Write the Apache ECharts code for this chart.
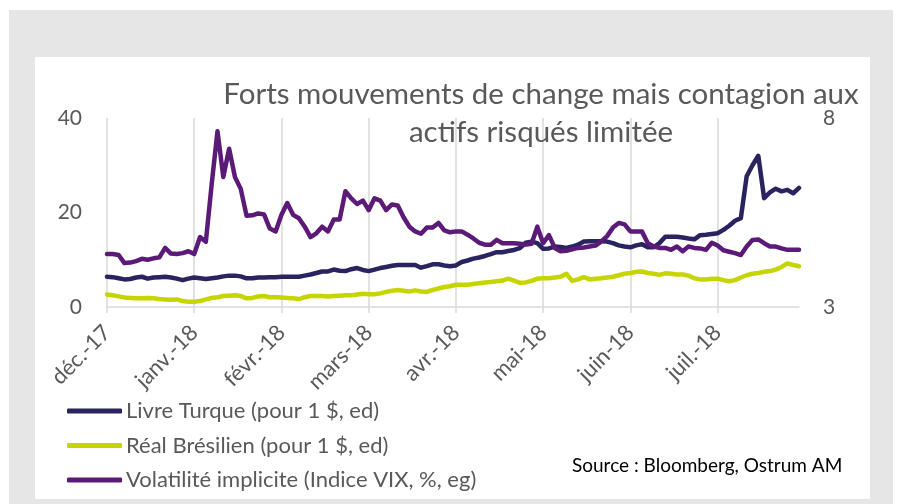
<!DOCTYPE html>
<html>
<head>
<meta charset="utf-8">
<script src="https://cdn.jsdelivr.net/npm/echarts@6/dist/echarts.min.js"></script>
<style>
html,body{margin:0;padding:0;background:#fff;}
#chart{width:901px;height:504px;}
</style>
</head>
<body>
<div id="chart"></div>
<script>
// ---- DATA ----
const monthLabels = ['déc.-17','janv.-18','févr.-18','mars-18','avr.-18','mai-18','juin-18','juil.-18'];
const seriesNames = ['Livre Turque (pour 1 $, ed)','Réal Brésilien (pour 1 $, ed)','Volatilité implicite (Indice VIX, %, eg)'];
// Livre turque pour 1 $ (échelle droite)
const tryValues = [
3.80,3.79,3.76,3.73,3.74,3.78,3.80,3.75,3.78,3.79,
3.80,3.78,3.75,3.71,3.75,3.78,3.76,3.74,3.76,3.78,
3.81,3.83,3.83,3.81,3.76,3.76,3.78,3.78,3.79,3.79,
3.80,3.80,3.80,3.80,3.83,3.86,3.90,3.94,3.94,3.99,
3.96,3.95,4.00,4.03,3.98,3.95,3.99,4.03,4.06,4.09,
4.11,4.11,4.11,4.11,4.04,4.08,4.13,4.13,4.10,4.08,
4.10,4.19,4.23,4.28,4.31,4.35,4.40,4.45,4.45,4.48,
4.51,4.56,4.70,4.73,4.69,4.54,4.55,4.60,4.59,4.56,
4.60,4.65,4.73,4.74,4.74,4.74,4.73,4.69,4.63,4.60,
4.58,4.63,4.66,4.58,4.58,4.69,4.86,4.86,4.86,4.84,
4.81,4.79,4.90,4.91,4.93,4.95,5.04,5.15,5.28,5.35,
6.46,6.75,7.00,5.88,6.03,6.13,6.06,6.10,6.01,6.15
];
// Réal brésilien pour 1 $ (échelle droite)
const brlValues = [
3.33,3.31,3.28,3.25,3.24,3.23,3.23,3.24,3.23,3.21,
3.20,3.19,3.20,3.16,3.14,3.14,3.16,3.20,3.24,3.26,
3.29,3.30,3.31,3.29,3.23,3.24,3.28,3.29,3.26,3.26,
3.25,3.24,3.23,3.21,3.26,3.29,3.29,3.29,3.28,3.29,
3.30,3.31,3.31,3.33,3.35,3.34,3.34,3.36,3.40,3.43,
3.45,3.43,3.41,3.44,3.41,3.40,3.45,3.49,3.53,3.55,
3.59,3.59,3.59,3.61,3.63,3.65,3.66,3.68,3.70,3.75,
3.70,3.64,3.65,3.69,3.75,3.76,3.76,3.78,3.80,3.88,
3.69,3.73,3.79,3.73,3.75,3.76,3.78,3.80,3.84,3.88,
3.90,3.93,3.94,3.90,3.88,3.85,3.89,3.88,3.86,3.86,
3.83,3.76,3.73,3.73,3.75,3.75,3.71,3.68,3.71,3.78,
3.84,3.88,3.90,3.93,3.95,3.99,4.06,4.15,4.11,4.08
];
// Volatilité implicite VIX, % (échelle gauche)
const vixValues = [
11.2,11.2,11.0,9.3,9.4,9.7,10.2,10.0,10.3,10.5,
12.5,11.3,11.2,11.4,11.8,11.2,14.8,13.8,26.0,37.2,
27.5,33.5,27.5,25.0,19.3,19.4,19.8,19.6,16.6,16.0,
19.5,22.0,19.5,18.8,17.0,14.8,15.6,17.0,16.0,18.5,
18.5,24.5,23.0,21.8,22.5,20.5,23.0,22.5,20.5,21.7,
21.5,19.0,17.0,16.0,15.5,16.8,16.8,17.8,16.2,15.8,
16.0,16.0,15.3,14.5,13.6,13.2,13.2,14.2,13.5,13.5,
13.5,13.4,13.2,13.4,17.0,13.5,15.2,12.5,11.8,11.9,
12.2,12.5,12.6,12.8,13.0,13.9,15.0,16.8,17.8,17.5,
16.0,16.0,16.0,13.5,12.8,12.5,12.5,12.1,12.8,11.8,
12.8,12.5,12.4,12.1,13.6,13.0,12.0,11.7,11.4,11.0,
12.8,14.2,14.3,13.5,12.8,12.8,12.4,12.1,12.1,12.1
];
const labelEvery = 15;
const categories = vixValues.map((_, i) => String(i));

// ---- CHART ----
const FONT = 'Lato';
const TXT = '#595959';
const chart = echarts.init(document.getElementById('chart'), null, {renderer: 'canvas'});
chart.setOption({
  backgroundColor: '#ffffff',
  animation: false,
  textStyle: {fontFamily: FONT},
  graphic: [
    {type: 'rect', z: -10, silent: true, shape: {x: 9, y: 10, width: 884, height: 500}, style: {fill: '#e6e6e6'}},
    {type: 'rect', z: -9, silent: true, shape: {x: 35, y: 57, width: 835, height: 442}, style: {fill: '#ffffff'}},
    {type: 'text', z: 10, silent: true, style: {x: 541, y: 75, text: 'Forts mouvements de change mais contagion aux\nactifs risqués limitée', textAlign: 'center', font: '29.5px Lato', lineHeight: 38, fill: TXT}},
    {type: 'text', z: 10, silent: true, style: {x: 572, y: 456, text: 'Source : Bloomberg, Ostrum AM', font: '19px Lato', fill: '#000000'}}
  ],
  grid: {left: 107, right: 102, top: 118, bottom: 197, containLabel: false},
  legend: {
    orient: 'vertical', left: 67, top: 400, itemGap: 12.5, padding: 0,
    icon: 'roundRect', itemWidth: 55, itemHeight: 5,
    textStyle: {fontFamily: FONT, fontSize: 22, color: TXT, padding: [0, 0, 0, -1]},
    data: seriesNames
  },
  xAxis: {
    type: 'category', data: categories, boundaryGap: false,
    axisLine: {lineStyle: {color: '#d9d9d9', width: 1.5}},
    axisTick: {show: true, interval: labelEvery - 1, length: 6, lineStyle: {color: '#d9d9d9', width: 1.5}},
    splitLine: {show: true, interval: labelEvery - 1, lineStyle: {color: '#d9d9d9', width: 1.5}},
    axisLabel: {
      interval: labelEvery - 1, rotate: 45, margin: 22, fontSize: 22, color: TXT, fontFamily: FONT,
      formatter: (v, idx) => (idx % labelEvery === 0 ? (monthLabels[idx / labelEvery] || '') : '')
    }
  },
  yAxis: [
    {type: 'value', min: 0, max: 40, interval: 20, position: 'left',
     axisLine: {show: false}, axisTick: {show: false}, splitLine: {show: false},
     axisLabel: {fontSize: 21, color: TXT, margin: 25, fontFamily: FONT}},
    {type: 'value', min: 3, max: 8, interval: 5, position: 'right',
     axisLine: {show: false}, axisTick: {show: false}, splitLine: {show: false},
     axisLabel: {fontSize: 21, color: TXT, margin: 24, fontFamily: FONT}}
  ],
  series: [
    {name: seriesNames[0], type: 'line', yAxisIndex: 1, data: tryValues, symbol: 'none', color: '#29235f',
     lineStyle: {width: 4.5, color: '#29235f', join: 'round', cap: 'round'}},
    {name: seriesNames[1], type: 'line', yAxisIndex: 1, data: brlValues, symbol: 'none', color: '#c6d500',
     lineStyle: {width: 4.5, color: '#c6d500', join: 'round', cap: 'round'}},
    {name: seriesNames[2], type: 'line', yAxisIndex: 0, data: vixValues, symbol: 'none', color: '#5b1a77',
     lineStyle: {width: 4.5, color: '#5b1a77', join: 'round', cap: 'round'}}
  ]
});
</script>
</body>
</html>
